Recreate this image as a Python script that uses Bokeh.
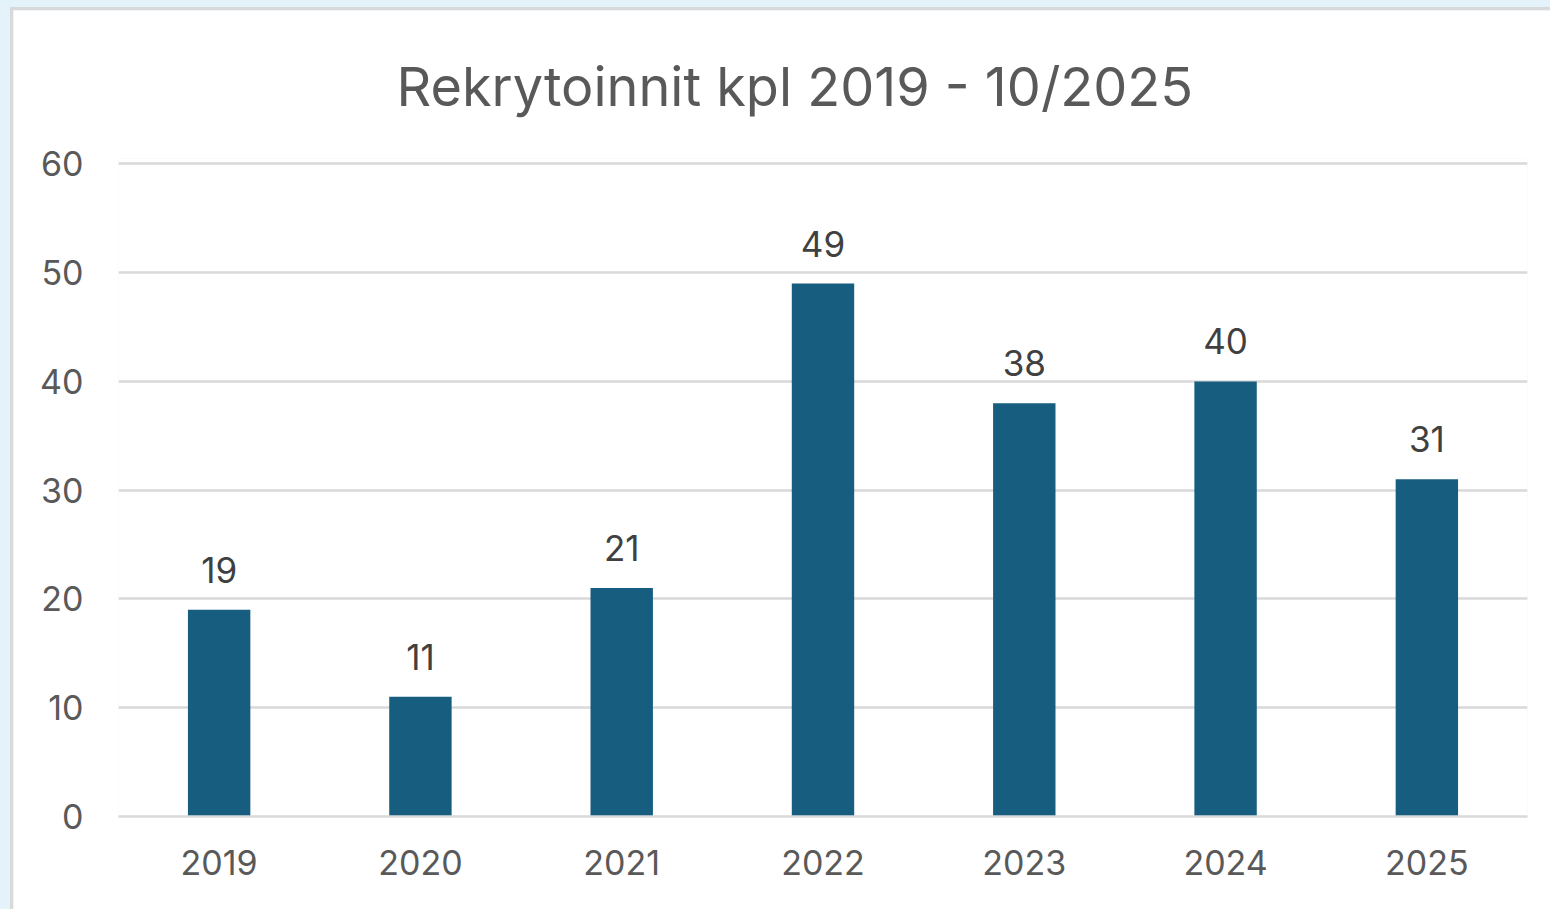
from bokeh.plotting import figure
from bokeh.models import ColumnDataSource, Range1d, FactorRange, LabelSet, FixedTicker
from bokeh.core.properties import value
from bokeh.layouts import column
from bokeh.embed import file_html
from bokeh.resources import INLINE

years = ["2019", "2020", "2021", "2022", "2023", "2024", "2025"]
counts = [19, 11, 21, 49, 38, 40, 31]
y_ticks = [0, 10, 20, 30, 40, 50, 60]
title_text = "Rekrytoinnit kpl 2019 - 10/2025"

FONT = "Inter"
src = ColumnDataSource(dict(year=years, count=counts, label=[str(c) for c in counts]))

p = figure(x_range=FactorRange(*years, range_padding=0), y_range=Range1d(0, 60.5),
           width=1540, height=902, output_backend="svg", toolbar_location=None,
           margin=(7, 0, 0, 10), min_border_left=105, min_border_right=26,
           min_border_top=148, min_border_bottom=96)
p.styles = {"border-top": "3px solid #D9D9D9", "border-left": "3px solid #D9D9D9",
            "box-sizing": "border-box"}
p.border_fill_color = "white"
p.background_fill_color = "white"
p.outline_line_color = None

p.title.text = title_text
p.title.align = "left"
p.title.text_font = FONT
p.title.text_font_size = "54px"
p.title.text_font_style = "normal"
p.title.text_color = "#595959"
p.title.offset = 278
p.title.standoff = 80

p.vbar(x="year", top="count", width=0.31, source=src, color="#175D7F", line_color=None)

labels = LabelSet(x="year", y="count", text="label", source=src, text_align="center",
                  text_baseline="bottom", y_offset=27, text_font_size="35px",
                  text_color="#404040", text_font=value(FONT))
p.add_layout(labels)

p.xgrid.grid_line_color = None
p.ygrid.grid_line_color = "#D9D9D9"
p.ygrid.grid_line_width = 2.5
p.yaxis.ticker = FixedTicker(ticks=y_ticks)
p.yaxis.axis_line_color = None
p.yaxis.major_tick_line_color = None
p.yaxis.minor_tick_line_color = None
p.yaxis.major_label_text_font = FONT
p.yaxis.major_label_text_font_size = "34px"
p.yaxis.major_label_text_color = "#595959"
p.yaxis.major_label_standoff = 29

p.xaxis.axis_line_color = "#D9D9D9"
p.xaxis.axis_line_width = 2.5
p.xaxis.major_tick_line_color = None
p.xaxis.minor_tick_line_color = None
p.xaxis.major_label_text_font = FONT
p.xaxis.major_label_text_font_size = "34px"
p.xaxis.major_label_text_color = "#595959"
p.xaxis.major_label_standoff = 27

layout = column(p, styles={"background-color": "#E4F2FA"}, width=1550, height=909)

open("out.html", "w").write(file_html(layout, INLINE))
